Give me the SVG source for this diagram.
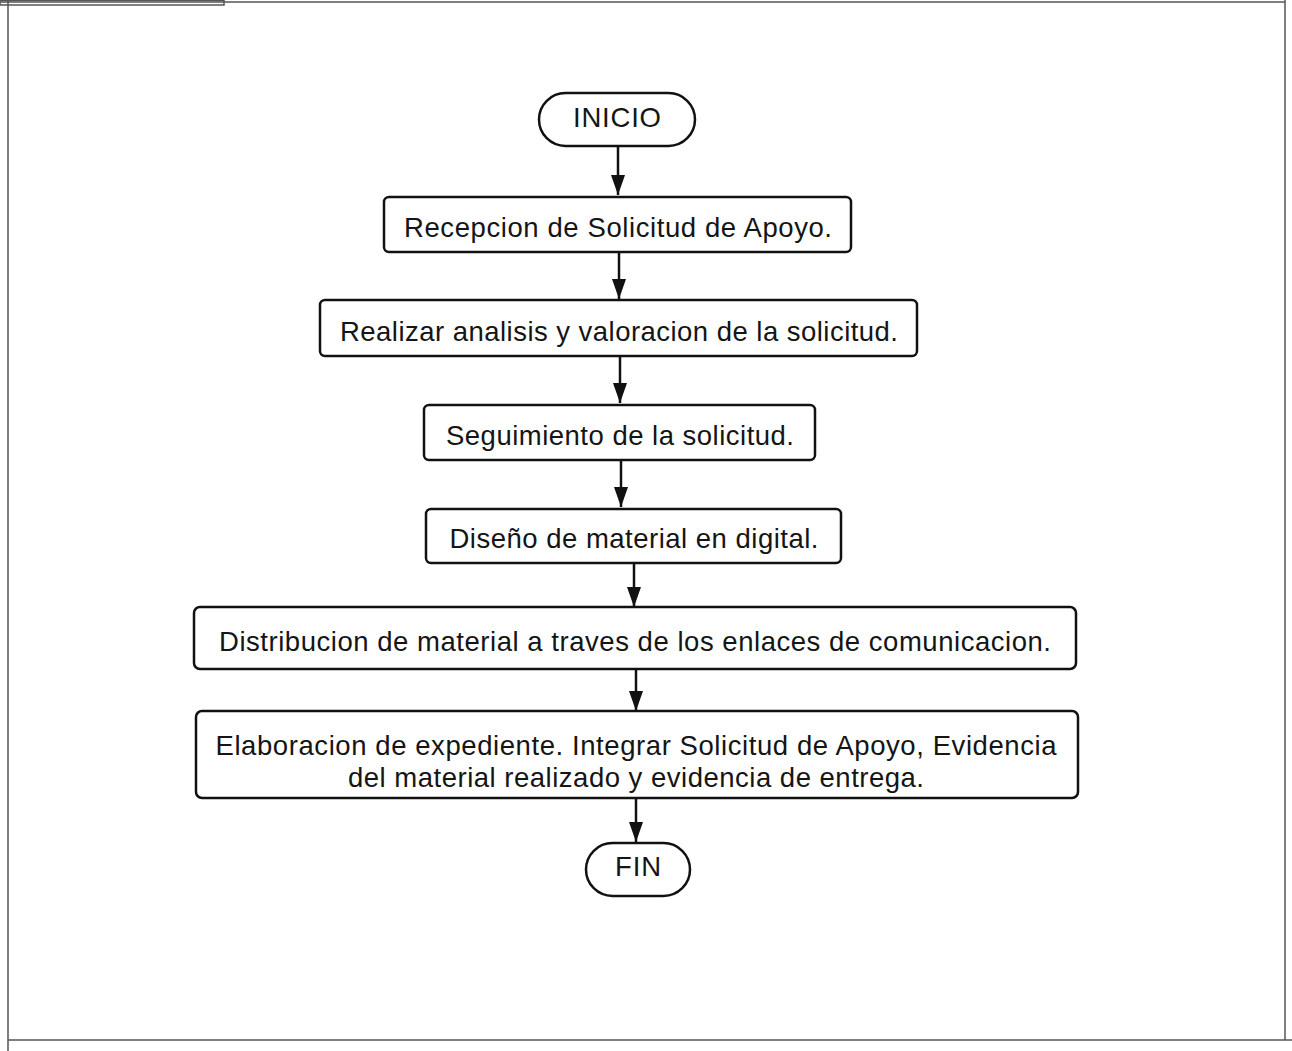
<svg xmlns="http://www.w3.org/2000/svg" width="1292" height="1051" viewBox="0 0 1292 1051">
  <defs>
    <marker id="arrow" viewBox="0 0 20 14" refX="20" refY="7" markerWidth="20" markerHeight="14" markerUnits="userSpaceOnUse" orient="auto">
      <path d="M0,0 L20,7 L0,14 Z" fill="#111"/>
    </marker>
    <style>
      .frame { fill: none; stroke: #555; stroke-width: 1.5; }
      .box { fill: #fff; stroke: #111; stroke-width: 2.5; }
      .label { font-family: "Liberation Sans", Arial, sans-serif; font-size: 27.5px; fill: #151515; text-anchor: middle; }
      .edge { fill: none; stroke: #111; stroke-width: 2.5; }
    </style>
  </defs>
  <rect width="1292" height="1051" fill="#fff"/>

  <!-- page frame -->
  <g id="frame">
    <line class="frame" x1="8" y1="0" x2="8" y2="1051"/>
    <line class="frame" x1="0" y1="2" x2="1285" y2="2"/>
    <rect class="frame" x="0" y="0.5" width="224" height="4.5"/>
    <line class="frame" x1="1285" y1="0" x2="1285" y2="1040"/>
    <line class="frame" x1="8" y1="1040" x2="1292" y2="1040"/>
  </g>

  <!-- connectors -->
  <g id="connectors">
    <line class="edge" x1="618" y1="147" x2="618" y2="195" marker-end="url(#arrow)"/>
    <line class="edge" x1="619" y1="252" x2="619" y2="299" marker-end="url(#arrow)"/>
    <line class="edge" x1="620" y1="356" x2="620" y2="403" marker-end="url(#arrow)"/>
    <line class="edge" x1="621" y1="460" x2="621" y2="507" marker-end="url(#arrow)"/>
    <line class="edge" x1="634" y1="563" x2="634" y2="607" marker-end="url(#arrow)"/>
    <line class="edge" x1="636" y1="669" x2="636" y2="711" marker-end="url(#arrow)"/>
    <line class="edge" x1="636" y1="786" x2="636" y2="842" marker-end="url(#arrow)"/>
  </g>

  <g id="inicio">
    <rect class="box" x="539" y="93" width="156" height="53" rx="26.5"/>
    <text class="label" x="617" y="127" textLength="88" lengthAdjust="spacing">INICIO</text>
  </g>

  <g id="recepcion">
    <rect class="box" x="384" y="197" width="467" height="55" rx="5"/>
    <text class="label" x="618" y="237" textLength="428" lengthAdjust="spacing">Recepcion de Solicitud de Apoyo.</text>
  </g>

  <g id="analisis">
    <rect class="box" x="320" y="300" width="597" height="56" rx="5"/>
    <text class="label" x="619" y="341" textLength="558" lengthAdjust="spacing">Realizar analisis y valoracion de la solicitud.</text>
  </g>

  <g id="seguimiento">
    <rect class="box" x="424" y="405" width="391" height="55" rx="5"/>
    <text class="label" x="620" y="445" textLength="348" lengthAdjust="spacing">Seguimiento de la solicitud.</text>
  </g>

  <g id="diseno">
    <rect class="box" x="426" y="509" width="415" height="54" rx="5"/>
    <text class="label" x="634" y="548" textLength="369" lengthAdjust="spacing">Diseño de material en digital.</text>
  </g>

  <g id="distribucion">
    <rect class="box" x="194" y="607" width="882" height="62" rx="6"/>
    <text class="label" x="635" y="651" textLength="832" lengthAdjust="spacing">Distribucion de material a traves de los enlaces de comunicacion.</text>
  </g>

  <g id="expediente">
    <rect class="box" x="196" y="711" width="882" height="87" rx="6"/>
    <text class="label" x="636" y="755" textLength="841" lengthAdjust="spacing">Elaboracion de expediente. Integrar Solicitud de Apoyo, Evidencia</text>
    <text class="label" x="636" y="787" textLength="576" lengthAdjust="spacing">del material realizado y evidencia de entrega.</text>
  </g>

  <g id="fin">
    <rect class="box" x="586" y="843" width="104" height="53" rx="26.5"/>
    <text class="label" x="638" y="876" textLength="46" lengthAdjust="spacing">FIN</text>
  </g>
</svg>
